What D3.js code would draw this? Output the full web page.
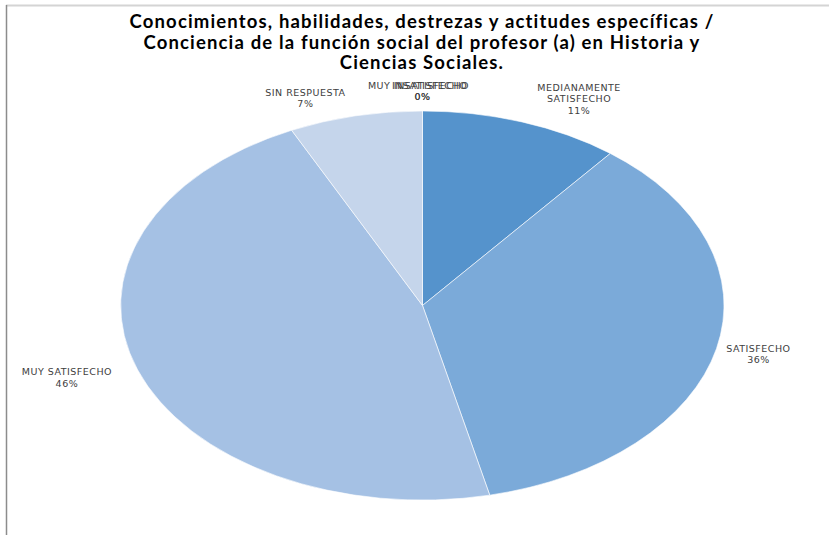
<!DOCTYPE html>
<html>
<head>
<meta charset="utf-8">
<script src="https://cdn.jsdelivr.net/npm/d3@7"></script>
<style>
  html, body { margin: 0; padding: 0; background: #fff; }
  svg { display: block; }
</style>
</head>
<body>
<svg id="chart" width="829" height="535"></svg>
<script>
// ---- data ----
const categories = ["MUY INSATISFECHO", "INSATISFECHO", "MEDIANAMENTE SATISFECHO", "SATISFECHO", "MUY SATISFECHO", "SIN RESPUESTA"];
const counts = [0, 0, 3, 10, 13, 2];
const percentLabels = ["0%", "0%", "11%", "36%", "46%", "7%"];
const colors = ["#3f77b5", "#4a83c2", "#5593cc", "#7baad9", "#a5c1e4", "#c5d5eb"];
const titleLines = [
  "Conocimientos, habilidades, destrezas y actitudes específicas /",
  "Conciencia de la función social del profesor (a) en Historia y",
  "Ciencias Sociales."
];

// ---- layout (not data) ----
const W = 829, H = 535;
const cx = 422.5, cy = 305.5, rx = 301.5, ry = 194.5;
const labelLines = [["MUY INSATISFECHO"], ["INSATISFECHO"], ["MEDIANAMENTE", "SATISFECHO"], ["SATISFECHO"], ["MUY SATISFECHO"], ["SIN RESPUESTA"]];
const nudges = [[0, -20], [0, -20], [57, -23], [42, 5], [-71, 8], [-50, -18]];
const nameDx = [-4, 7, 0, 0, 0, 0];

const svg = d3.select("#chart");

// frame lines
svg.append("line").attr("x1", 6).attr("x2", W).attr("y1", 5.5).attr("y2", 5.5)
  .attr("stroke", "#d4d4d4").attr("stroke-width", 2);
svg.append("line").attr("x1", 6.5).attr("x2", 6.5).attr("y1", 5).attr("y2", H)
  .attr("stroke", "#8c8c8c").attr("stroke-width", 1.5);

// title
const title = svg.append("text")
  .attr("text-anchor", "middle")
  .attr("font-family", "Lato, 'Open Sans', sans-serif")
  .attr("font-weight", "bold")
  .attr("font-size", 18.5)
  .attr("fill", "#000");
titleLines.forEach((t, i) => {
  title.append("tspan").attr("x", 422).attr("y", 28 + i * 20.5).text(t);
});
// widen via letter spacing to match reference line width (~585px)
const firstNode = title.select("tspan").node();
const firstLen = firstNode.getComputedTextLength();
const nChars = titleLines[0].length;
if (firstLen > 0 && firstLen < 585) title.attr("letter-spacing", (585 - firstLen) / nChars);

// pie
const pie = d3.pie().sort(null).value(d => d)(counts);
const arc = d3.arc().innerRadius(0).outerRadius(1);

const g = svg.append("g").attr("transform", `translate(${cx},${cy}) scale(${rx},${ry})`);
g.selectAll("path").data(pie).join("path")
  .attr("d", arc)
  .attr("fill", (d, i) => colors[i])
  .attr("stroke", "#ffffff")
  .attr("stroke-width", 0.6)
  .attr("vector-effect", "non-scaling-stroke");

// labels
const lg = svg.append("g")
  .attr("font-family", "'DejaVu Sans', Verdana, sans-serif")
  .attr("font-size", 9.5)
  .attr("letter-spacing", 0.5)
  .attr("fill", "#404040")
  .attr("text-anchor", "middle");

pie.forEach((d, i) => {
  const a = (d.startAngle + d.endAngle) / 2;
  const bx = cx + rx * Math.sin(a);
  const by = cy - ry * Math.cos(a);
  const lx = bx + nudges[i][0];
  const ly = by + nudges[i][1];
  const names = labelLines[i];
  const n = names.length + 1;
  const t = lg.append("text");
  names.forEach((s, k) => {
    t.append("tspan").attr("x", lx + nameDx[i]).attr("y", ly + (k - (n - 1) / 2) * 11.5 + 3.5).text(s);
  });
  t.append("tspan").attr("x", lx).attr("y", ly + ((n - 1) - (n - 1) / 2) * 11.5 + 3.5).text(percentLabels[i]);
});
</script>
</body>
</html>
